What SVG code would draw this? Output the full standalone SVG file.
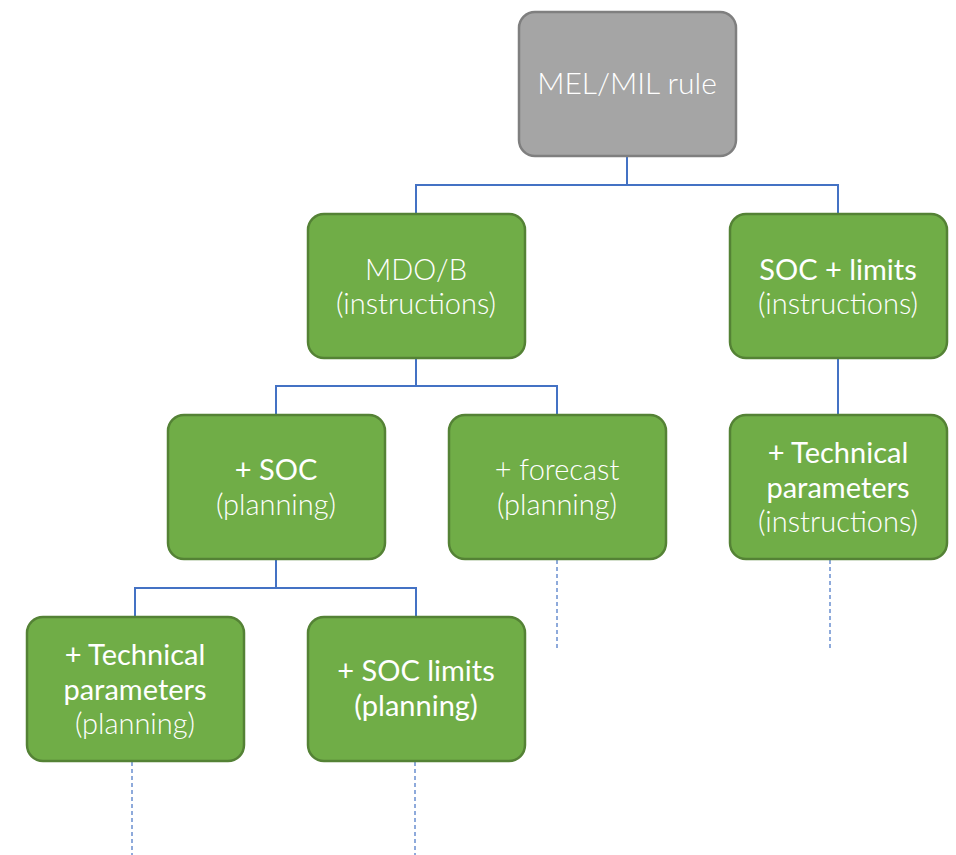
<svg xmlns="http://www.w3.org/2000/svg" width="956" height="855" viewBox="0 0 956 855">
<style>
.box{fill:#70ad47;stroke:#548235;stroke-width:2.5}
.grey{fill:#a5a5a5;stroke:#7f7f7f;stroke-width:2.5}
text{font-family:Lato,"Open Sans","Liberation Sans",sans-serif;font-size:29px;fill:#ffffff;text-anchor:middle}
.l{font-weight:300}
.r{font-weight:400}
.conn{fill:none;stroke:#4472c4;stroke-width:2}
.dash{fill:none;stroke:#4472c4;stroke-width:1.2;stroke-dasharray:4 3}
</style>
<rect width="956" height="855" fill="#ffffff"/>
<g id="connectors">
<path class="conn" d="M627 156V185M416 214V185H838V214"/>
<path class="conn" d="M416 358V386M276 415V386H557V415"/>
<path class="conn" d="M838 358V415"/>
<path class="conn" d="M276 559V588M135 617V588H416V617"/>
<path class="dash" d="M557 560V650"/>
<path class="dash" d="M830 560V650"/>
<path class="dash" d="M132 762V855"/>
<path class="dash" d="M415 762V855"/>
</g>
<g id="mel">
<rect class="grey" x="519" y="12" width="217" height="144" rx="16"/>
<text class="l" x="627" y="94" style="font-size:30px">MEL/MIL rule</text>
</g>
<g id="mdob">
<rect class="box" x="308" y="214" width="217" height="144" rx="16"/>
<text class="l" x="416" y="280">MDO/B</text>
<text class="l" x="416" y="314">(instructions)</text>
</g>
<g id="soclimits">
<rect class="box" x="730" y="214" width="217" height="144" rx="16"/>
<text class="r" x="838" y="280">SOC + limits</text>
<text class="l" x="838" y="314">(instructions)</text>
</g>
<g id="soc">
<rect class="box" x="168" y="415" width="217" height="144" rx="16"/>
<text class="r" x="276" y="480">+ SOC</text>
<text class="l" x="276" y="515">(planning)</text>
</g>
<g id="forecast">
<rect class="box" x="449" y="415" width="217" height="144" rx="16"/>
<text class="l" x="557" y="480">+ forecast</text>
<text class="l" x="557" y="515">(planning)</text>
</g>
<g id="techinstr">
<rect class="box" x="730" y="415" width="217" height="144" rx="16"/>
<text class="r" x="838" y="463">+ Technical</text>
<text class="r" x="838" y="498">parameters</text>
<text class="l" x="838" y="532">(instructions)</text>
</g>
<g id="techplan">
<rect class="box" x="27" y="617" width="217" height="144" rx="16"/>
<text class="r" x="135" y="665">+ Technical</text>
<text class="r" x="135" y="700">parameters</text>
<text class="l" x="135" y="734">(planning)</text>
</g>
<g id="soclimplan">
<rect class="box" x="308" y="617" width="217" height="144" rx="16"/>
<text class="r" x="416" y="681">+ SOC limits</text>
<text class="r" x="416" y="716">(planning)</text>
</g>
</svg>
